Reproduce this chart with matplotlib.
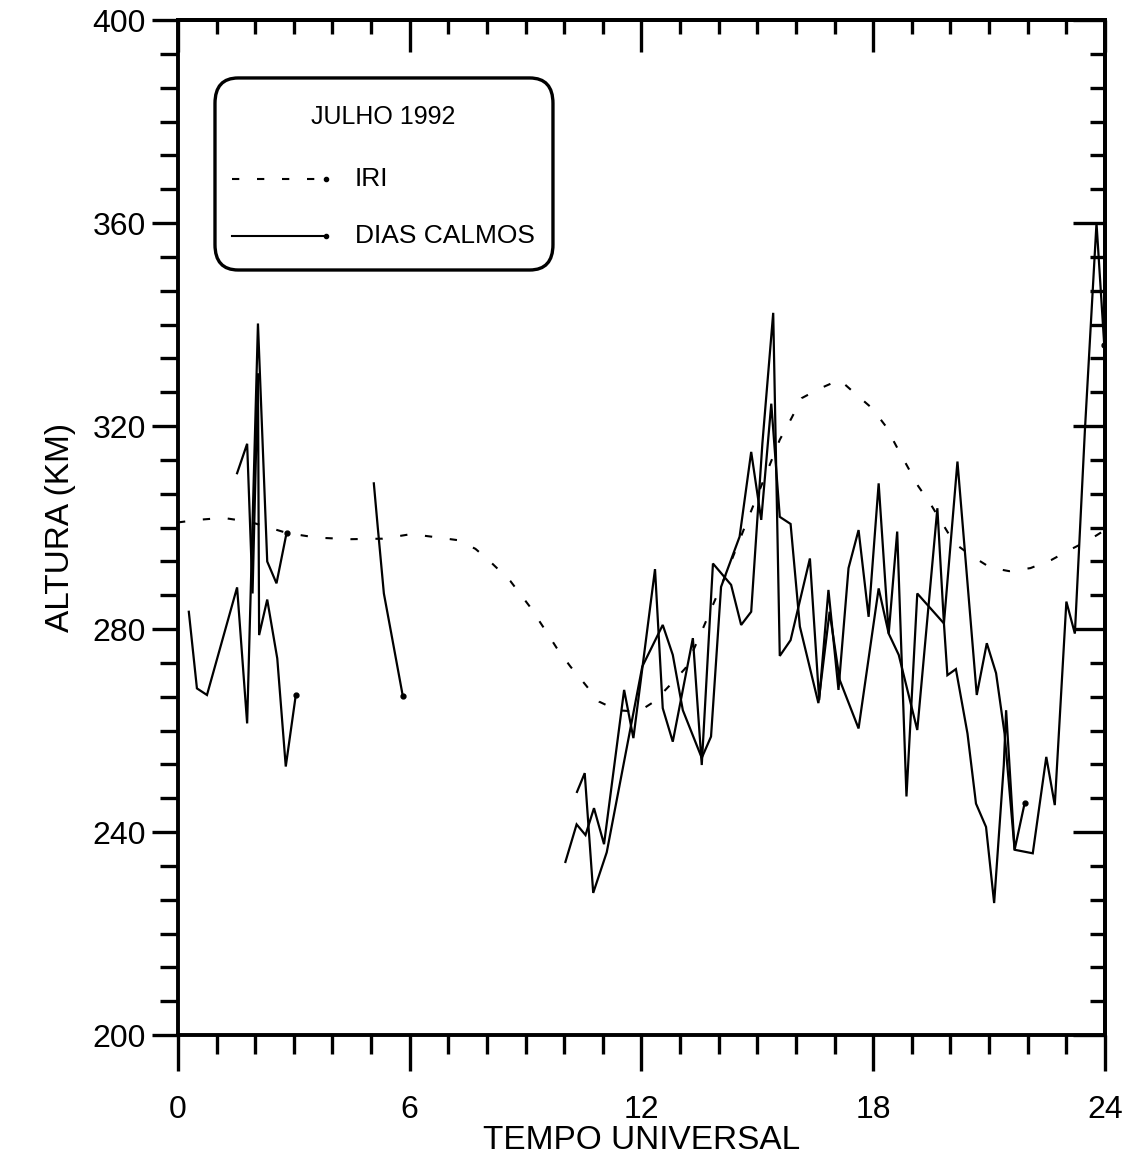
import matplotlib
matplotlib.use("Agg")
import matplotlib.pyplot as plt
from matplotlib.ticker import MultipleLocator, FixedLocator
from matplotlib.patches import FancyBboxPatch
from matplotlib.lines import Line2D

plt.rcParams['font.family'] = ['Liberation Sans', 'DejaVu Sans']

# ---------------- data ----------------
# IRI model (dashed)
iri_t = [0.0, 0.5, 1.17, 1.87, 2.83, 3.6, 4.48, 5.3, 6.04, 6.56, 7.25, 7.7, 8.08, 8.6, 9.1,
         9.49, 9.81, 10.16, 10.53, 10.9, 11.37, 11.92, 12.33, 12.72, 13.14, 13.59, 13.83,
         14.2, 14.71, 14.93, 15.25, 15.58, 15.88, 16.15, 16.62, 17.13, 17.53, 17.97, 18.32,
         18.6, 18.88, 19.16, 19.47, 19.79, 20.1, 20.55, 21.03, 21.52, 22.07, 22.61, 23.09,
         23.58, 24.0]
iri_h = [301.0, 301.5, 301.9, 301.1, 298.9, 298.0, 297.7, 297.8, 298.7, 298.2, 297.5, 295.8,
         293.3, 289.5, 284.5, 280.0, 276.2, 272.6, 269.2, 265.7, 264.0, 263.7, 265.7, 268.8,
         272.3, 280.1, 284.4, 291.0, 300.8, 305.0, 311.0, 317.3, 321.5, 325.5, 327.4, 329.1,
         326.4, 323.5, 320.0, 316.0, 312.1, 308.2, 304.8, 300.8, 296.9, 294.4, 292.1, 291.4,
         292.0, 293.6, 295.6, 297.5, 299.5]

# quiet days (solid), several segments
calm1_t = [0.28, 0.49, 0.75, 1.53, 1.79, 2.07, 2.31, 2.55, 2.81]
calm1_h = [283.4, 268.3, 267.0, 288.2, 261.4, 340.2, 293.3, 289.0, 298.9]

calm2_t = [1.53, 1.79, 1.93, 2.07, 2.10, 2.31, 2.57, 2.79, 3.05]
calm2_h = [310.7, 316.5, 287.0, 330.4, 278.8, 285.8, 274.2, 252.9, 267.0]

calm3_t = [5.07, 5.17, 5.33, 5.52, 5.82]
calm3_h = [308.7, 300.2, 287.0, 279.2, 266.8]

calm4_t = [10.03, 10.32, 10.55, 10.77, 11.03, 11.55, 11.79, 12.35, 12.55, 12.81, 13.33, 13.56,
           13.85, 14.32, 14.58, 14.84, 15.13, 15.41, 15.58, 15.86, 16.36, 16.60, 16.84, 17.10,
           17.36, 17.62, 17.88, 18.14, 18.40, 18.62, 18.86, 19.14, 19.83, 20.18, 20.68, 20.94,
           21.18, 21.40, 21.66, 22.13, 22.48, 22.70, 23.00, 23.22, 23.48, 23.78, 23.98]
calm4_h = [234.1, 241.5, 239.4, 244.7, 237.6, 268.0, 258.5, 291.8, 264.4, 257.8, 278.2, 253.2,
           292.9, 288.7, 280.8, 283.4, 316.6, 342.3, 274.7, 277.8, 293.9, 266.0, 287.7, 268.0,
           292.0, 299.5, 282.4, 308.7, 279.1, 299.2, 247.0, 287.0, 281.1, 313.0, 267.0, 277.2,
           271.3, 259.4, 236.5, 235.8, 254.8, 245.3, 285.4, 279.1, 319.2, 360.0, 336.0]

calm5_t = [10.33, 10.53, 10.75, 11.10, 12.02, 12.55, 12.81, 13.07, 13.56, 13.80, 14.06, 14.54,
           14.84, 15.10, 15.36, 15.58, 15.86, 16.10, 16.58, 16.87, 17.13, 17.62, 18.14, 18.40,
           18.66, 19.14, 19.66, 19.83, 19.92, 20.14, 20.44, 20.66, 20.92, 21.13, 21.38, 21.44,
           21.66, 21.92]
calm5_h = [247.9, 251.6, 228.0, 236.0, 272.6, 280.8, 274.9, 264.0, 254.6, 258.8, 288.3, 298.2,
           314.9, 301.5, 324.4, 302.1, 300.7, 280.5, 265.4, 283.4, 270.0, 260.4, 288.0, 279.1,
           274.9, 260.1, 303.8, 281.1, 270.9, 272.1, 259.4, 245.6, 241.0, 226.0, 253.2, 264.0,
           236.5, 245.7]

x_major = [0, 6, 12, 18, 24]
y_major = [200, 240, 280, 320, 360, 400]

# ---------------- figure ----------------
fig = plt.figure(figsize=(11.43, 11.64), dpi=100)
ax = fig.add_axes([0.15573, 0.11082, 0.81102, 0.87199])
ax.set_xlim(0, 24)
ax.set_ylim(200, 400)

ax.plot(iri_t, iri_h, color='black', lw=1.5, dashes=(3.5, 8.5))
segs = [(calm1_t, calm1_h), (calm2_t, calm2_h), (calm3_t, calm3_h),
        (calm4_t, calm4_h), (calm5_t, calm5_h)]
for t, h in segs:
    ax.plot(t, h, color='black', lw=1.6, solid_joinstyle='miter')
    ax.plot([t[-1]], [h[-1]], 'o', color='black', ms=3.5)

for s in ax.spines.values():
    s.set_linewidth(2.8)

# bottom / left ticks (outward)
ax.xaxis.set_major_locator(FixedLocator(x_major))
ax.xaxis.set_minor_locator(MultipleLocator(1))
ax.yaxis.set_major_locator(FixedLocator(y_major))
ax.yaxis.set_minor_locator(MultipleLocator(40 / 6))
ax.tick_params(axis='x', which='major', direction='out', length=26, width=2.4, pad=17,
               labelsize=23, top=False)
ax.tick_params(axis='x', which='minor', direction='out', length=14, width=2.4, top=False)
ax.tick_params(axis='y', which='major', direction='out', length=19, width=2.4, pad=4,
               labelsize=23, right=False)
ax.tick_params(axis='y', which='minor', direction='out', length=13, width=2.4, right=False)

# top / right ticks (inward)
top = ax.secondary_xaxis('top')
top.xaxis.set_major_locator(FixedLocator(x_major))
top.xaxis.set_minor_locator(MultipleLocator(1))
top.tick_params(which='major', direction='in', length=23, width=2.4, labeltop=False)
top.tick_params(which='minor', direction='in', length=10, width=2.4)
top.spines['top'].set_linewidth(2.8)
right = ax.secondary_yaxis('right')
right.yaxis.set_major_locator(FixedLocator(y_major))
right.yaxis.set_minor_locator(MultipleLocator(40 / 6))
right.tick_params(which='major', direction='in', length=23, width=2.4, labelright=False)
right.tick_params(which='minor', direction='in', length=11, width=2.4)
right.spines['right'].set_linewidth(2.8)

ax.set_xlabel('TEMPO UNIVERSAL', fontsize=24, labelpad=0)
ax.set_ylabel('ALTURA (KM)', fontsize=24, labelpad=12)

# legend box
box = FancyBboxPatch((0.0399, 0.7537), 0.3646, 0.1892, transform=ax.transAxes,
                     boxstyle='round,pad=0,rounding_size=0.025', mutation_aspect=1.0,
                     fill=False, lw=2.4, ec='black', zorder=5)
ax.add_patch(box)
ax.text(0.221, 0.9044, 'JULHO 1992', transform=ax.transAxes, ha='center', va='center',
        fontsize=18)
ax.add_line(Line2D([0.0583, 0.1597], [0.8436, 0.8436], transform=ax.transAxes,
                   color='black', lw=1.5, dashes=(3.5, 8.5)))
ax.plot([0.1597], [0.8436], 'o', ms=3, color='black', transform=ax.transAxes)
ax.text(0.191, 0.8436, 'IRI', transform=ax.transAxes, ha='left', va='center', fontsize=19)
ax.add_line(Line2D([0.0583, 0.1597], [0.7872, 0.7872], transform=ax.transAxes,
                   color='black', lw=1.5))
ax.plot([0.1597], [0.7872], 'o', ms=3, color='black', transform=ax.transAxes)
ax.text(0.191, 0.7872, 'DIAS CALMOS', transform=ax.transAxes, ha='left', va='center',
        fontsize=19)

fig.savefig('out.png', dpi=100, facecolor='white')
